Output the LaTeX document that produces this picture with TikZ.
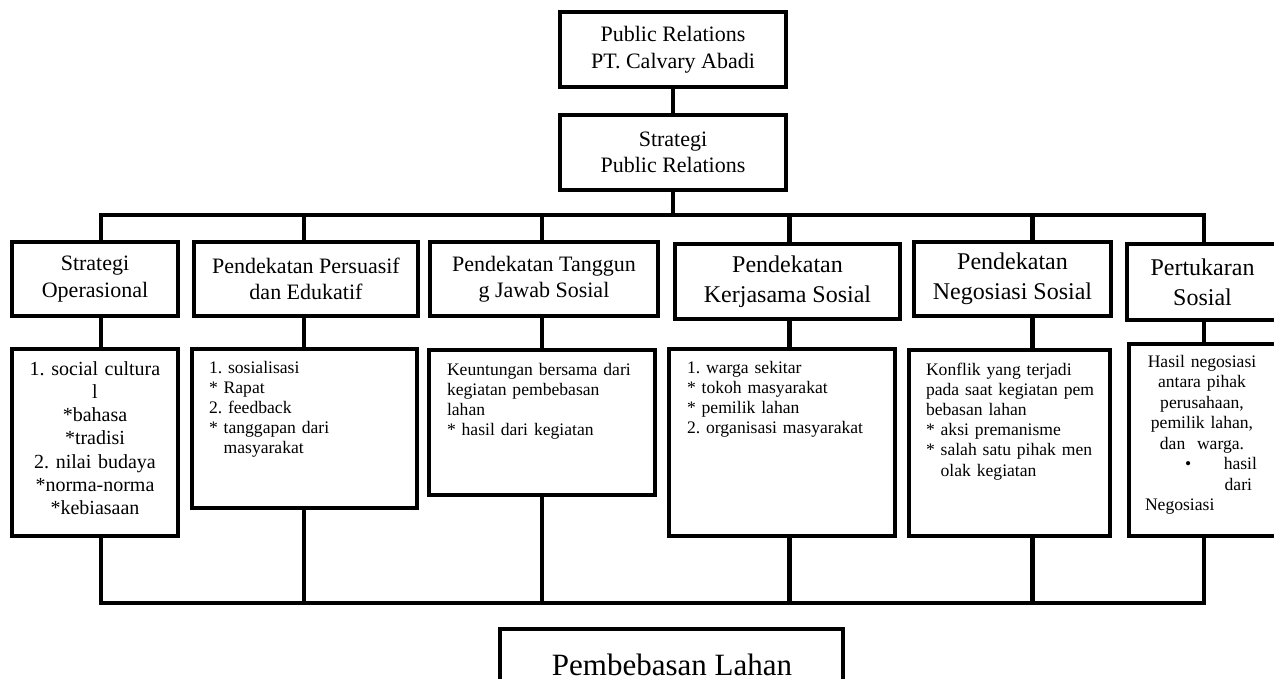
\documentclass[tikz,border=0pt]{standalone}
\usepackage{fontspec}
\setmainfont{Liberation Serif}
\frenchspacing
\begin{document}
\begin{tikzpicture}[x=1pt,y=-1pt,
  box/.style={draw, line width=4pt, rectangle, inner sep=0pt, outer sep=0pt, align=center},
  conn/.style={line width=4.5pt, line join=miter},
  txt/.style={inner sep=0pt, outer sep=0pt},
  fA/.style={font=\fontsize{22}{26.5}\selectfont},
  fB/.style={font=\fontsize{24}{30}\selectfont},
  fC/.style={font=\fontsize{20}{23.3}\selectfont},
  fD/.style={font=\fontsize{17.6}{20.2}\selectfont},
  fE/.style={font=\fontsize{31}{36}\selectfont}]
\path[use as bounding box] (0,0) rectangle (1274,679);
\clip (0,0) rectangle (1274,679);

% coordinates for connector lines
\coordinate (tb) at (0,215);
\coordinate (bb) at (0,603);
\coordinate (c1) at (101,0);
\coordinate (c2) at (304,0);
\coordinate (c3) at (542,0);
\coordinate (c4) at (789.5,0);
\coordinate (c5) at (1032.5,0);
\coordinate (c6) at (1204,0);

% top boxes
\node[box,fA,minimum width=226pt,minimum height=75pt] (pr) at (673,49.5) {Public Relations\\PT. Calvary Abadi};
\node[box,fA,minimum width=226pt,minimum height=75pt] (spr) at (673,152.5) {Strategi\\Public Relations};

% first row
\node[box,fA,minimum width=166pt,minimum height=74pt] (a1) at (95,279) {Strategi\\Operasional};
\node[box,fA,minimum width=224pt,minimum height=74pt] (a2) at (306,279) {Pendekatan Persuasif\\dan Edukatif};
\node[box,fA,minimum width=228pt,minimum height=74pt] (a3) at (544,279) {Pendekatan Tanggun\\g Jawab Sosial};
\node[box,fB,minimum width=225pt,minimum height=75pt] (a4) at (787.5,281.5) {Pendekatan\\Kerjasama Sosial};
\node[box,fB,minimum width=197pt,minimum height=74pt] (a5) at (1012.5,279) {Pendekatan\\Negosiasi Sosial};
\node[box,fB,minimum width=151pt,minimum height=76pt] (a6) at (1202.5,282) {Pertukaran\\Sosial};

% second row boxes
\node[box,minimum width=166pt,minimum height=187pt] (b1) at (95,442.5) {};
\node[box,minimum width=225pt,minimum height=159pt] (b2) at (304.5,428.5) {};
\node[box,minimum width=226pt,minimum height=145pt] (b3) at (542,422.5) {};
\node[box,minimum width=226pt,minimum height=187pt] (b4) at (782,442.5) {};
\node[box,minimum width=201pt,minimum height=186pt] (b5) at (1009.5,443) {};
\node[box,minimum width=151pt,minimum height=192pt] (b6) at (1204.5,440) {};

% second row texts
\node[txt,fC,text width=160pt,align=center,anchor=base] (b1t) at (95,375)
  {1. social cultura\\l\\{*}bahasa\\{*}tradisi\\2. nilai budaya\\{*}norma-norma\\{*}kebiasaan};
\node[txt,fD,text width=200pt,align=left,anchor=base west] (b2t) at (209,373)
  {1. sosialisasi\\{*} Rapat\\2. feedback\\{*} tanggapan dari\\\phantom{*\ }masyarakat};
\node[txt,fD,text width=200pt,align=left,anchor=base west] (b3t) at (447,375)
  {Keuntungan bersama dari\\kegiatan pembebasan\\lahan\\{*} hasil dari kegiatan};
\node[txt,fD,text width=205pt,align=left,anchor=base west] (b4t) at (687,373)
  {1. warga sekitar\\{*} tokoh masyarakat\\{*} pemilik lahan\\2. organisasi masyarakat};
\node[txt,fD,text width=180pt,align=left,anchor=base west] (b5t) at (926,375)
  {Konflik yang terjadi\\pada saat kegiatan pem\\bebasan lahan\\{*} aksi premanisme\\{*} salah satu pihak men\\\phantom{*\ }olak kegiatan};
\node[txt,font=\fontsize{17.6}{20.5}\selectfont,text width=114pt,align=center,anchor=base west] (b6t) at (1145,367)
  {Hasil negosiasi\\antara pihak\\perusahaan,\\pemilik lahan,\\dan\ \ warga.\\
   \makebox[114pt][l]{\hspace*{40pt}\textbullet\hfill hasil\hspace*{2pt}}\\
   \makebox[114pt][r]{dari\hspace*{7pt}}\\
   \makebox[114pt][l]{Negosiasi}};

% bottom box
\node[box,minimum width=343pt,minimum height=91pt] (pl) at (671.5,674.5) {};
\node[txt,fE,anchor=base] (plt) at (672,675) {Pembebasan Lahan};

% connectors
\draw[conn] (pr.south) -- (spr.north);
\draw[conn] (spr.south) -- (spr.south |- tb);
\draw[conn] (a1.north -| c1) -- (c1 |- tb) -- (c6 |- tb) -- (a6.north -| c6);
\foreach \i in {2,3,4,5} {\draw[conn] (c\i |- tb) -- (a\i.north -| c\i);}
\foreach \i in {1,2,3,4,5,6} {\draw[conn] (a\i.south -| c\i) -- (b\i.north -| c\i);}
\draw[conn] (b1.south -| c1) -- (c1 |- bb) -- (c6 |- bb) -- (b6.south -| c6);
\foreach \i in {2,3,4,5} {\draw[conn] (b\i.south -| c\i) -- (c\i |- bb);}
\end{tikzpicture}
\end{document}
